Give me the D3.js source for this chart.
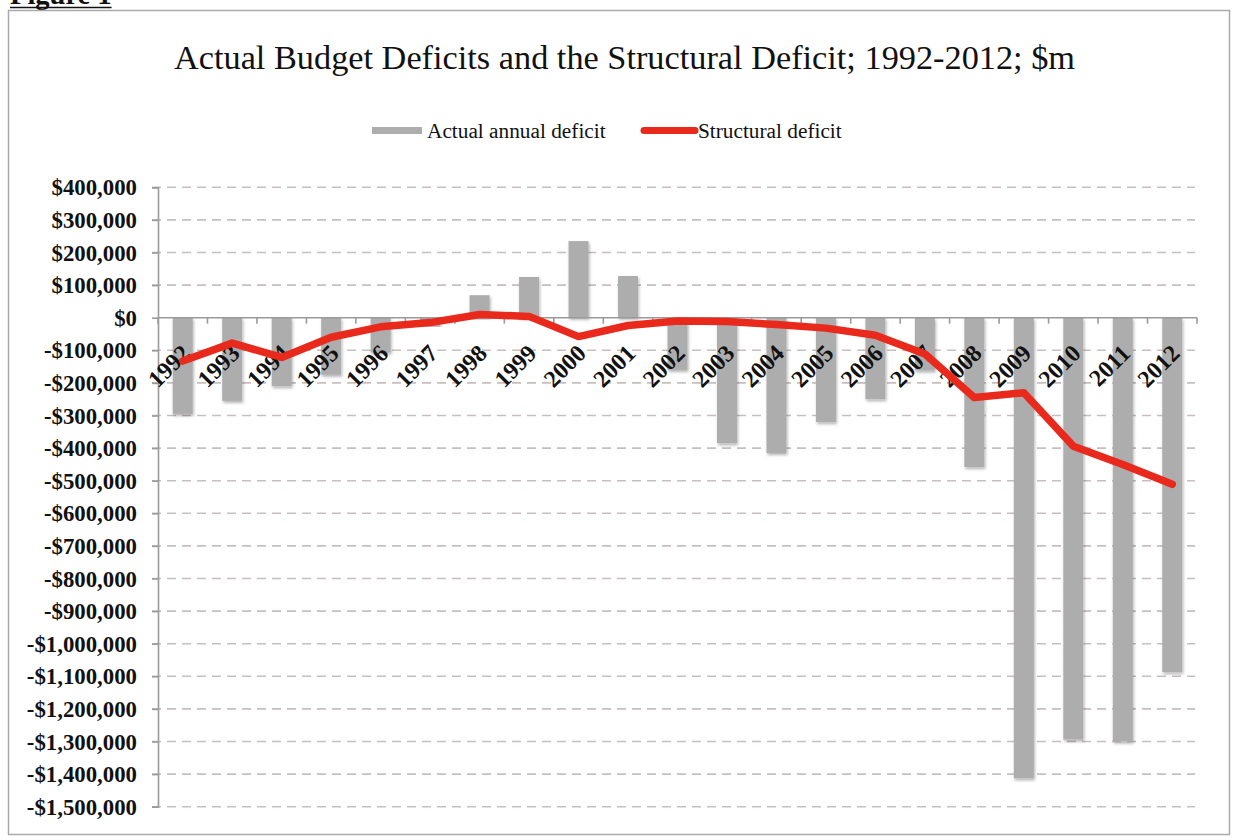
<!DOCTYPE html>
<html>
<head>
<meta charset="utf-8">
<script src="https://cdn.jsdelivr.net/npm/d3@7"></script>
<style>
  body { margin: 0; background: #fff; }
  svg { display: block; }
  text { font-family: "Liberation Serif", "Times New Roman", serif; fill: #111; }
</style>
</head>
<body>
<svg id="chart"></svg>
<script>
// chart values ($m)
const years = ["1992", "1993", "1994", "1995", "1996", "1997", "1998", "1999", "2000", "2001",
               "2002", "2003", "2004", "2005", "2006", "2007", "2008", "2009", "2010", "2011", "2012"];
const actualDeficit = [-295000, -255000, -210000, -175000, -107000, -25000, 69000, 125000, 235000, 128000,
                       -160000, -385000, -415000, -320000, -250000, -162000, -458000, -1413000, -1294000, -1300000, -1087000];
const structuralDeficit = [-133000, -78000, -122000, -60000, -28000, -15000, 10000, 4000, -58000, -24000,
                           -10000, -12000, -21000, -32000, -54000, -111000, -245000, -230000, -394000, -450000, -511000];
const yTicks = [400000, 300000, 200000, 100000, 0, -100000, -200000, -300000, -400000, -500000, -600000, -700000,
                -800000, -900000, -1000000, -1100000, -1200000, -1300000, -1400000, -1500000];
const seriesNames = ["Actual annual deficit", "Structural deficit"];

const W = 1235, H = 840;
const margin = {left: 158, right: 38, top: 187.3, bottom: 33.3};

const svg = d3.select("#chart").attr("width", W).attr("height", H);

// drop shadow for the bars
const defs = svg.append("defs");
defs.append("filter")
    .attr("id", "barShadow")
    .attr("x", "-30%").attr("y", "-10%").attr("width", "160%").attr("height", "120%")
    .append("feDropShadow")
    .attr("dx", 1).attr("dy", 2).attr("stdDeviation", 1.6)
    .attr("flood-color", "#000").attr("flood-opacity", 0.3);

// "Figure 1" caption, cut off at the top of the page as in the source
const fig = svg.append("text")
    .attr("x", 10).attr("y", 4)
    .attr("font-size", 28.5).attr("font-weight", "bold")
    .text("Figure 1");
const figLen = fig.node().getComputedTextLength();
svg.append("line")
    .attr("x1", 10).attr("x2", 10 + figLen)
    .attr("y1", 7.5).attr("y2", 7.5)
    .attr("stroke", "#111").attr("stroke-width", 1.5);

// chart frame
svg.append("rect")
    .attr("x", 8.5).attr("y", 10.5)
    .attr("width", 1221).attr("height", 824)
    .attr("fill", "#fff")
    .attr("stroke", "#aaa").attr("stroke-width", 1.5);

// title
svg.append("text")
    .attr("x", 624.5).attr("y", 69)
    .attr("text-anchor", "middle")
    .attr("font-size", 34.3)
    .text("Actual Budget Deficits and the Structural Deficit; 1992-2012; $m");

// scales
const x = d3.scaleBand()
    .domain(years)
    .range([margin.left, W - margin.right])
    .paddingInner(0).paddingOuter(0);

const y = d3.scaleLinear()
    .domain([-1500000, 400000])
    .range([H - margin.bottom, margin.top]);

const fmt = v => (v < 0 ? "-$" : "$") + d3.format(",")(Math.abs(v));

// gridlines (dashed)
svg.append("g")
    .attr("class", "grid")
    .selectAll("line")
    .data(yTicks.filter(d => d !== 0))
    .join("line")
    .attr("x1", margin.left - 6)
    .attr("x2", W - margin.right - 2)
    .attr("y1", d => y(d)).attr("y2", d => y(d))
    .attr("stroke", "#c9bdbd")
    .attr("stroke-width", 1.6)
    .attr("stroke-dasharray", "9,6");

// y axis
const yAxis = svg.append("g")
    .attr("class", "y-axis")
    .attr("transform", "translate(" + margin.left + ",0)")
    .call(d3.axisLeft(y).tickValues(yTicks).tickFormat(fmt).tickSize(6).tickPadding(15));
yAxis.select(".domain").attr("stroke", "#9a9a9a").attr("stroke-width", 1.6);
yAxis.selectAll(".tick line").attr("stroke", "#9a9a9a").attr("stroke-width", 1.6);
yAxis.selectAll(".tick text")
    .attr("font-family", "'Liberation Serif', 'Times New Roman', serif")
    .attr("font-size", 22.8)
    .attr("font-weight", "bold")
    .attr("fill", "#1a1a1a")
    .attr("dy", "0.33em");

// bars
svg.append("g")
    .attr("class", "bars")
    .selectAll("rect")
    .data(years)
    .join("rect")
    .attr("x", (d, i) => x(d) + x.bandwidth() / 2 - 10)
    .attr("width", 20)
    .attr("y", (d, i) => Math.min(y(actualDeficit[i]), y(0)))
    .attr("height", (d, i) => Math.abs(y(actualDeficit[i]) - y(0)))
    .attr("fill", "#adadad")
    .attr("filter", "url(#barShadow)");

// category axis on the zero line
const xAxis = svg.append("g")
    .attr("class", "x-axis")
    .attr("transform", "translate(0," + y(0) + ")");
xAxis.append("line")
    .attr("x1", margin.left).attr("x2", W - margin.right)
    .attr("stroke", "#9a9a9a").attr("stroke-width", 1.6);
xAxis.selectAll(".cat-tick")
    .data(years.concat(["end"]))
    .join("line")
    .attr("class", "cat-tick")
    .attr("x1", (d, i) => margin.left + i * x.step())
    .attr("x2", (d, i) => margin.left + i * x.step())
    .attr("y1", 0).attr("y2", 6)
    .attr("stroke", "#9a9a9a").attr("stroke-width", 1.6);

// structural deficit line
const line = d3.line()
    .x((d, i) => x(years[i]) + x.bandwidth() / 2)
    .y(d => y(d));

svg.append("path")
    .datum(structuralDeficit)
    .attr("fill", "none")
    .attr("stroke", "#e8291c")
    .attr("stroke-width", 7.5)
    .attr("stroke-linejoin", "round")
    .attr("stroke-linecap", "round")
    .attr("d", line);

// rotated year labels
xAxis.selectAll(".year")
    .data(years)
    .join("text")
    .attr("class", "year")
    .attr("text-anchor", "end")
    .attr("font-size", 24)
    .attr("font-weight", "bold")
    .attr("fill", "#0a0a0a")
    .attr("transform", d => "translate(" + (x(d) + x.bandwidth() / 2 + 9) + ",37) rotate(-45)")
    .text(d => d);

// legend
const legend = svg.append("g").attr("class", "legend");
legend.append("rect")
    .attr("x", 372).attr("y", 127)
    .attr("width", 50).attr("height", 7)
    .attr("fill", "#adadad");
legend.append("text")
    .attr("x", 427).attr("y", 138)
    .attr("font-size", 21.3)
    .text(seriesNames[0]);
legend.append("line")
    .attr("x1", 644).attr("x2", 695)
    .attr("y1", 130.5).attr("y2", 130.5)
    .attr("stroke", "#e8291c").attr("stroke-width", 7)
    .attr("stroke-linecap", "round");
legend.append("text")
    .attr("x", 698).attr("y", 138)
    .attr("font-size", 21.3)
    .text(seriesNames[1]);
</script>
</body>
</html>
